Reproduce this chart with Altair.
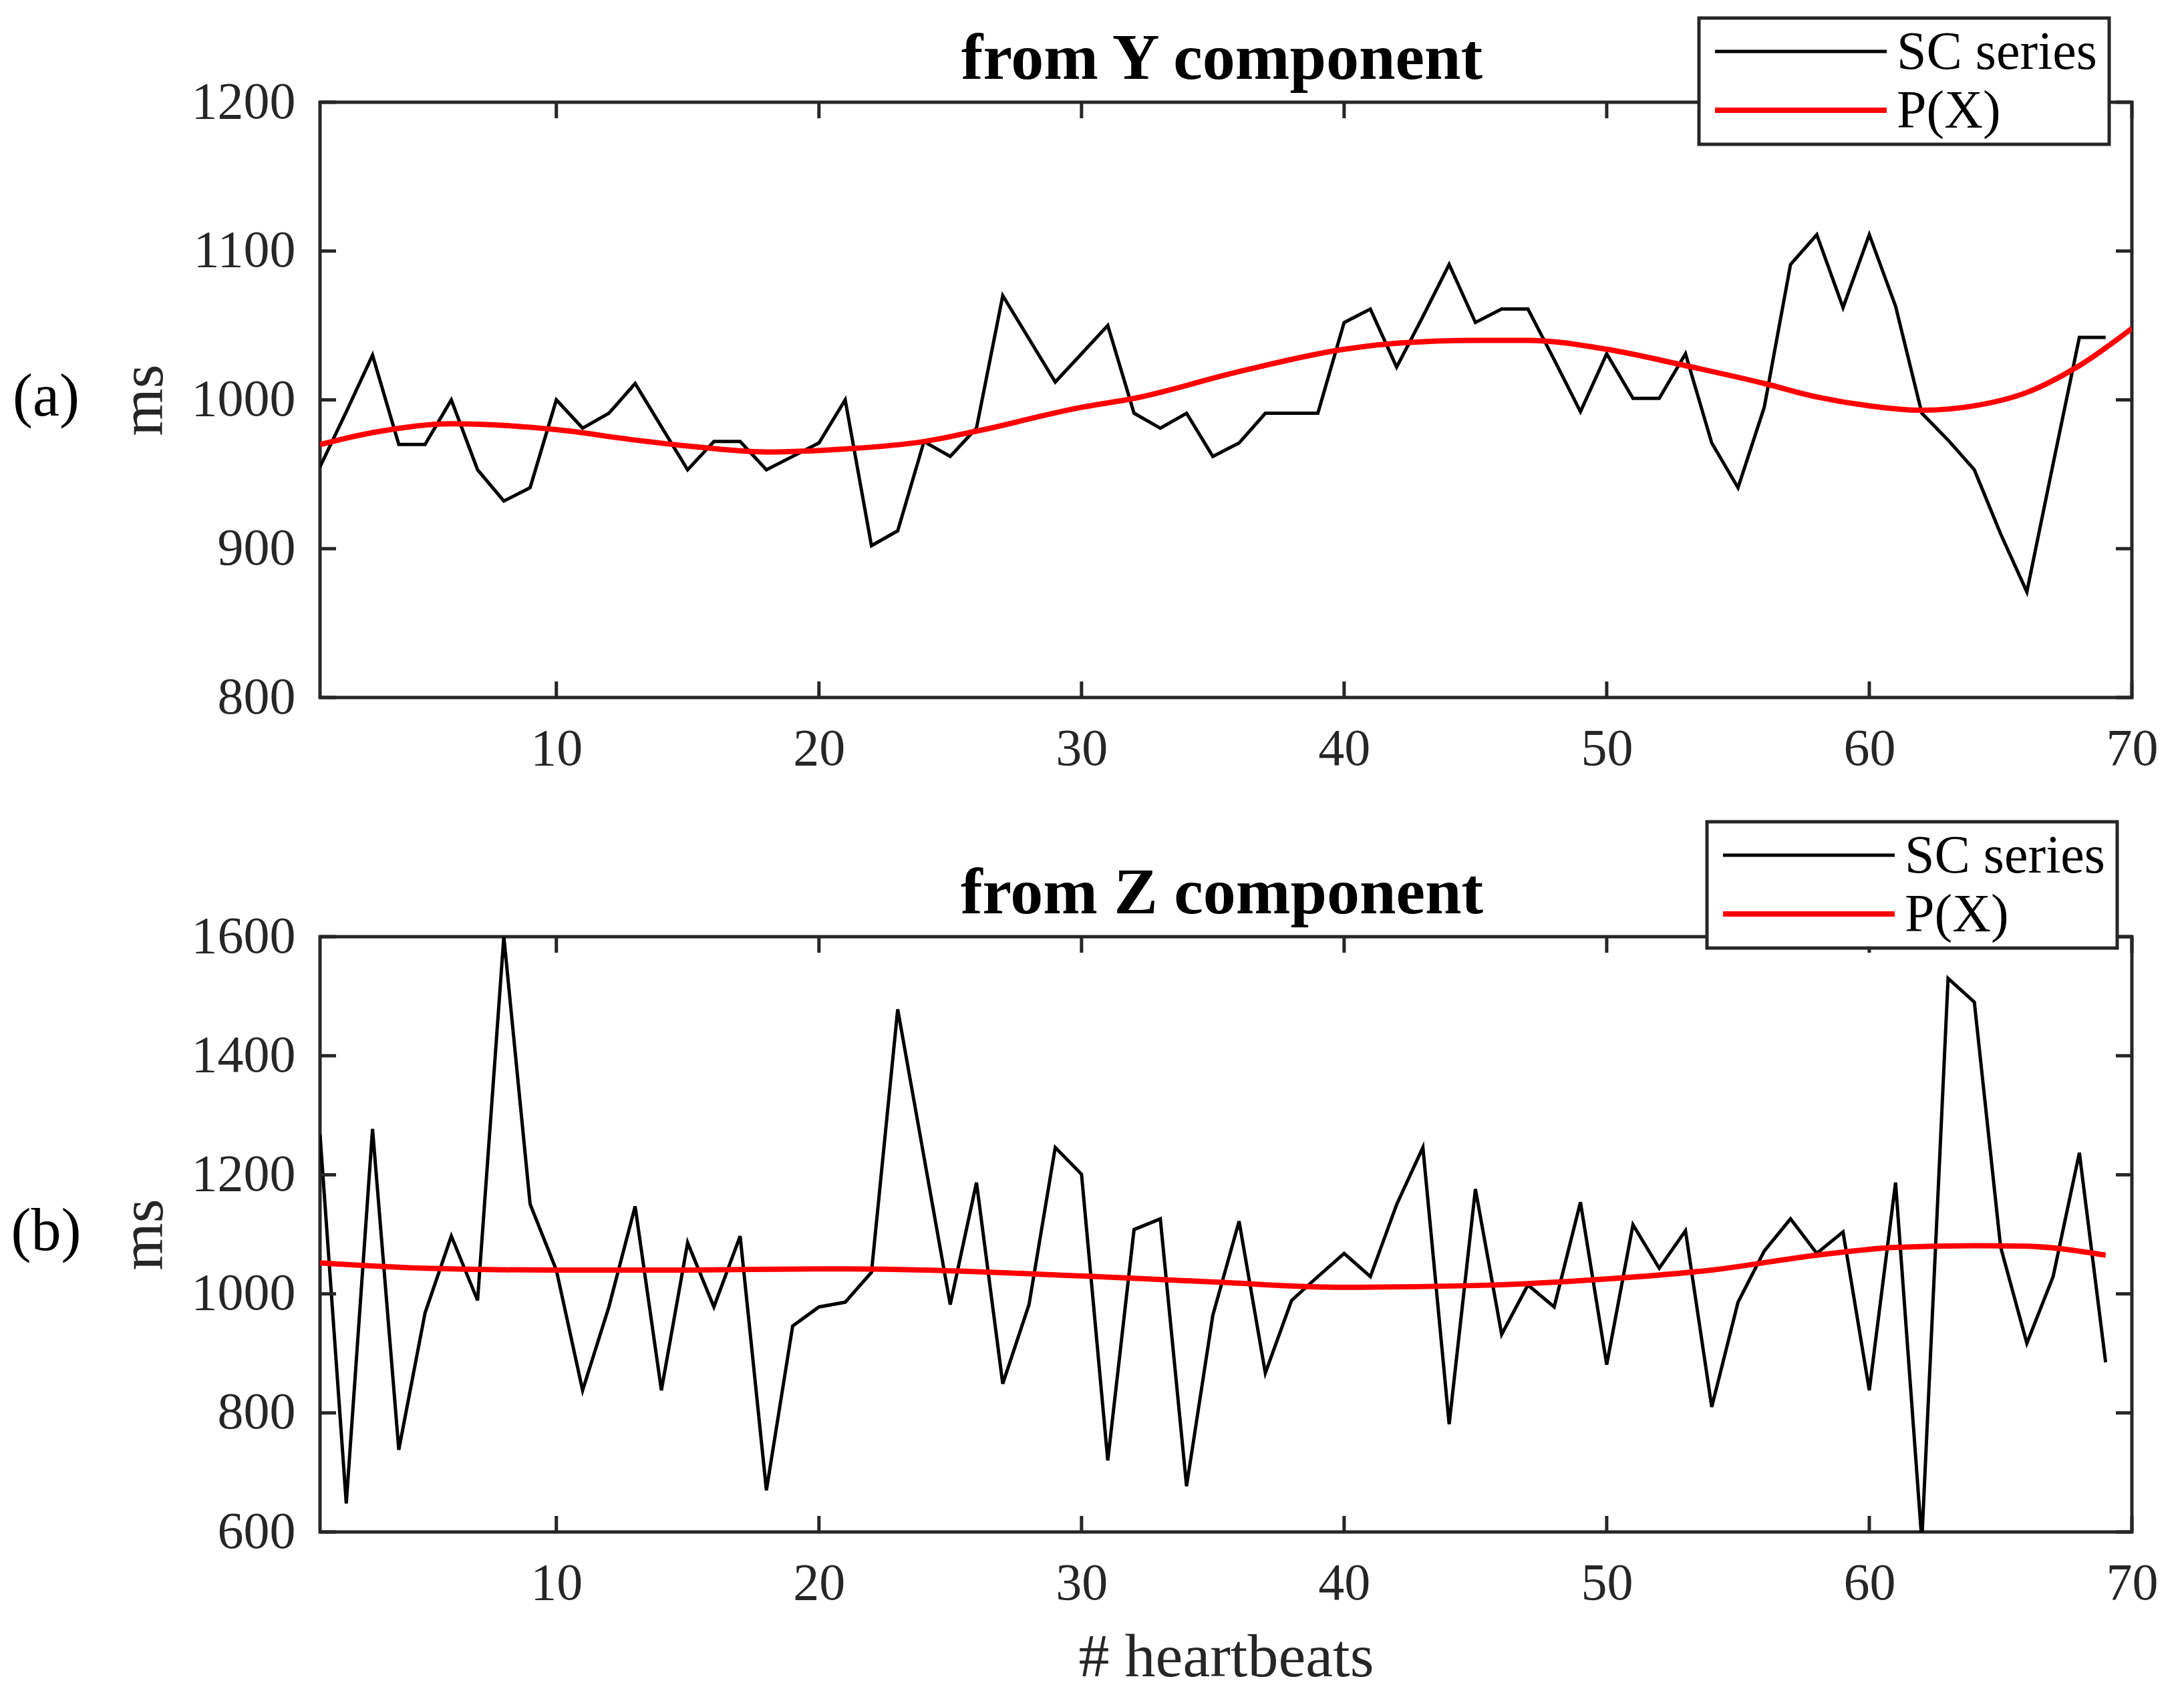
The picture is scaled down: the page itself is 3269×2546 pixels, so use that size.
import altair as alt
import pandas as pd

# ---------------- data ----------------
beats = list(range(1, 70))

sc_y = [955, 992, 1030, 970, 970, 1000, 953, 932, 941, 1000,
        981, 991, 1011, 982, 953, 972, 972, 953, 962, 971,
        1000, 902, 912, 972, 962, 981, 1070, 1041, 1012, 1031,
        1050, 991, 981, 991, 962, 971, 991, 991, 991, 1052,
        1061, 1022, 1056, 1091, 1052, 1061, 1061, 1027, 992, 1031,
        1001, 1001, 1031, 971, 941, 995, 1091, 1111, 1062, 1111,
        1063, 991, 973, 953, 910, 871, 957, 1042, 1042]

px_y_x = [1, 3, 6, 10, 13, 15, 18, 21, 24, 26, 30, 32, 36, 40, 42, 45, 47,
          50, 53, 56, 58, 60, 62, 64, 66, 68, 70]
px_y = [970, 978, 984, 980, 973, 969, 965, 967, 972, 979, 995, 1001, 1019,
        1034, 1038, 1040, 1040, 1034, 1023, 1011, 1002, 996, 993, 996, 1005,
        1023, 1048]

sc_z = [1268, 648, 1277, 738, 968, 1097, 989, 1600, 1151, 1040,
        838, 978, 1147, 838, 1086, 978, 1097, 670, 946, 978,
        986, 1036, 1478, 1230, 982, 1187, 849, 982, 1246, 1201,
        720, 1108, 1126, 677, 964, 1122, 867, 989, 1029, 1068,
        1029, 1150, 1246, 781, 1176, 932, 1015, 978, 1154, 881,
        1116, 1043, 1106, 810, 986, 1072, 1126, 1068, 1104, 838,
        1187, 585, 1530, 1490, 1079, 917, 1029, 1237, 885]

px_z_x = [1, 5, 10, 15, 20, 24, 30, 35, 40, 45, 50, 54, 58, 61, 64, 66, 69]
px_z = [1052, 1043, 1040, 1040, 1042, 1040, 1030, 1020, 1011, 1014, 1025,
        1040, 1065, 1078, 1081, 1080, 1065]

x_ticks = [10, 20, 30, 40, 50, 60, 70]
y_ticks_top = [800, 900, 1000, 1100, 1200]
y_ticks_bot = [600, 800, 1000, 1200, 1400, 1600]
series_names = ["SC series", "P(X)"]
series_colors = ["black", "#ff0000"]

# ---------------- style ----------------
FONT = "Liberation Serif"
AX = "#262626"
W = 2712
H = 891
TICK = 24
LW = [5, 8]


def panel(sc_vals, px_x, px_vals, ydom, yticks, title, tag, bx, by, xtitle):
    df_sc = pd.DataFrame({"x": beats, "ms": sc_vals})
    df_px = pd.DataFrame({"x": px_x, "ms": px_vals})
    xs = alt.Scale(domain=[1, 70], nice=False, zero=False)
    ys = alt.Scale(domain=ydom, nice=False, zero=False)
    xaxis = alt.Axis(
        values=x_ticks, format="d", domain=False, ticks=False, grid=False,
        labelFont=FONT, labelFontSize=78, labelColor=AX, labelPadding=38,
        labelFlush=False, labelOverlap=False,
        title=xtitle if xtitle else "", titleFont=FONT, titleFontSize=92,
        titleFontWeight="normal", titleColor=AX, titlePadding=26,
    )
    yaxis = alt.Axis(
        values=yticks, format="d", domain=False, ticks=False, grid=False,
        labelFont=FONT, labelFontSize=78, labelColor=AX, labelPadding=37,
        labelFlush=False, labelOverlap=False,
        title="ms", titleFont=FONT, titleFontSize=92,
        titleFontWeight="normal", titleColor=AX, titlePadding=25,
    )
    black = alt.Chart(df_sc).mark_line(clip=True, color=series_colors[0],
                                       strokeWidth=LW[0]).encode(
        x=alt.X("x:Q", scale=xs, axis=xaxis),
        y=alt.Y("ms:Q", scale=ys, axis=yaxis),
    )
    red = alt.Chart(df_px).mark_line(clip=True, interpolate="monotone",
                                     color=series_colors[1],
                                     strokeWidth=LW[1]).encode(
        x=alt.X("x:Q", scale=xs),
        y=alt.Y("ms:Q", scale=ys),
    )
    dfx = pd.DataFrame({"x": x_ticks})
    dfy = pd.DataFrame({"ms": yticks})
    xt_bot = alt.Chart(dfx).mark_rule(color=AX, strokeWidth=5).encode(
        x=alt.X("x:Q", scale=xs), y=alt.value(H), y2=alt.value(H - TICK))
    xt_top = alt.Chart(dfx).mark_rule(color=AX, strokeWidth=5).encode(
        x=alt.X("x:Q", scale=xs), y=alt.value(0), y2=alt.value(TICK))
    yt_left = alt.Chart(dfy).mark_rule(color=AX, strokeWidth=5).encode(
        y=alt.Y("ms:Q", scale=ys), x=alt.value(0), x2=alt.value(TICK))
    yt_right = alt.Chart(dfy).mark_rule(color=AX, strokeWidth=5).encode(
        y=alt.Y("ms:Q", scale=ys), x=alt.value(W), x2=alt.value(W - TICK))

    one = pd.DataFrame({"lab": [tag]})
    tag_txt = alt.Chart(one).mark_text(
        font=FONT, fontSize=90, color="black", align="center", baseline="middle"
    ).encode(text="lab:N", x=alt.value(-410), y=alt.value(H / 2 - 4))
    ttl = alt.Chart(pd.DataFrame({"t": [title]})).mark_text(
        font=FONT, fontSize=98, fontWeight="bold", color="black",
        align="center", baseline="alphabetic"
    ).encode(text="t:N", x=alt.value(W / 2 - 6), y=alt.value(-35))

    # legend box and entries
    bw, bh = 614, 189
    box = alt.Chart(pd.DataFrame({"b": [0]})).mark_rect(
        fill="white", stroke=AX, strokeWidth=5
    ).encode(x=alt.value(bx), x2=alt.value(bx + bw), y=alt.value(by), y2=alt.value(by + bh))
    leg = []
    for i, name in enumerate(series_names):
        ry = by + 50 + 88 * i
        d = pd.DataFrame({"s": [name]})
        leg.append(alt.Chart(d).mark_rule(color=series_colors[i], strokeWidth=LW[i]).encode(
            x=alt.value(bx + 24), x2=alt.value(bx + 281), y=alt.value(ry)))
        leg.append(alt.Chart(d).mark_text(
            font=FONT, fontSize=80, color="black", align="left", baseline="middle"
        ).encode(text="s:N", x=alt.value(bx + 296), y=alt.value(ry + 2)))

    return alt.layer(black, red, xt_bot, xt_top, yt_left, yt_right,
                     tag_txt, ttl, box, *leg).properties(width=W, height=H)


top = panel(sc_y, px_y_x, px_y, [800, 1200], y_ticks_top, "from Y component",
            "(a)", 2064, -126, None)
bot = panel(sc_z, px_z_x, px_z, [600, 1600], y_ticks_bot, "from Z component",
            "(b)", 2076, -172, "# heartbeats")

chart = alt.vconcat(top, bot, spacing=358, bounds="flush").resolve_scale(
    y="independent"
).properties(
    padding={"left": 6, "top": 14, "right": 5, "bottom": 5},
    background="white",
).configure_view(
    stroke=AX, strokeWidth=5
)

chart.save("out.html", embed_options={"renderer": "svg", "actions": False})
